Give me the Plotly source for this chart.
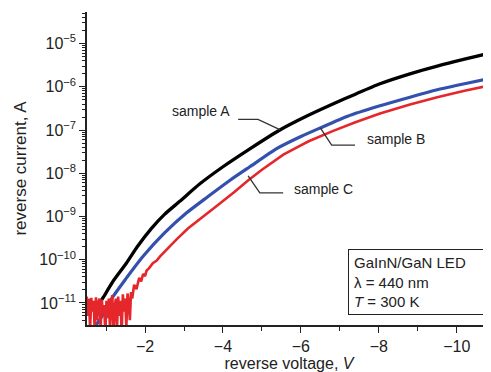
import numpy as np
import plotly.graph_objects as go

# ---------------- data ----------------
# reverse voltage in V, current given as log10(I / A)
sample_a_voltage = [-0.75, -0.92, -1.2, -1.52, -1.8, -2.16, -2.5, -2.89, -3.4, -4.0,
                    -4.7, -5.46, -6.1, -6.82, -7.4, -8.03, -8.8, -9.5, -10.2, -10.9]
sample_a_log10_current = [-11.12, -10.88, -10.47, -10.08, -9.70, -9.28, -8.95, -8.65, -8.25, -7.85,
                          -7.43, -7.00, -6.70, -6.40, -6.17, -5.93, -5.70, -5.52, -5.36, -5.21]

sample_b_voltage = [-0.68, -0.9, -1.18, -1.5, -1.95, -2.5, -3.06, -3.6, -4.2, -4.69,
                    -5.4, -6.0, -6.5, -7.2, -8.03, -8.8, -9.5, -10.2, -10.9]
sample_b_log10_current = [-11.6, -11.3, -10.85, -10.45, -9.92, -9.38, -8.92, -8.55, -8.15, -7.85,
                          -7.42, -7.15, -6.95, -6.68, -6.44, -6.24, -6.07, -5.93, -5.80]

sample_c_voltage = [-0.50, -0.53, -0.56, -0.59, -0.62, -0.65, -0.68, -0.71, -0.74, -0.77,
                    -0.80, -0.83, -0.86, -0.89, -0.92, -0.95, -0.98, -1.01, -1.04, -1.07,
                    -1.10, -1.13, -1.16, -1.19, -1.22, -1.25, -1.28, -1.31, -1.34, -1.37,
                    -1.40, -1.43, -1.46, -1.49, -1.52, -1.55, -1.58, -1.61, -1.64, -1.67,
                    -1.72, -1.78, -1.85, -1.9, -1.95, -2.0, -2.04, -2.1, -2.2, -2.3,
                    -2.38, -2.6, -2.81, -3.1, -3.4, -3.92, -4.3, -4.65, -5.0, -5.3,
                    -5.55, -5.9, -6.2, -6.83, -7.4, -8.03, -8.8, -9.5, -10.2, -10.9]
sample_c_log10_current = [-10.85, -11.3, -10.9, -11.6, -10.88, -11.2, -10.95, -11.7, -10.87, -11.4,
                          -11.0, -10.9, -11.6, -10.92, -11.25, -11.05, -11.7, -10.95, -11.35, -10.9,
                          -11.6, -11.0, -10.82, -11.7, -11.1, -10.9, -11.6, -10.85, -11.3, -10.95,
                          -11.7, -10.8, -11.2, -10.9, -11.55, -10.78, -11.0, -11.4, -10.75, -10.9,
                          -10.58, -10.68, -10.42, -10.5, -10.33, -10.38, -10.25, -10.2, -10.08, -10.02,
                          -9.93, -9.72, -9.53, -9.28, -9.06, -8.70, -8.43, -8.16, -7.92, -7.72,
                          -7.57, -7.40, -7.26, -7.02, -6.82, -6.62, -6.41, -6.24, -6.09, -5.96]

# leader lines for the labels
leader_a_voltage = [-4.39, -4.90, -5.46]
leader_a_log10 = [-6.755, -6.755, -6.99]
leader_b_voltage = [-6.50, -6.79, -7.39]
leader_b_log10 = [-6.95, -7.348, -7.348]
leader_c_voltage = [-4.646, -4.946, -5.545]
leader_c_log10 = [-8.06, -8.453, -8.453]

labels = ["sample A", "sample B", "sample C"]
label_voltage = [-3.43, -8.45, -6.585]
label_log10 = [-6.556, -7.212, -8.374]

x_tick_values = [-2, -4, -6, -8, -10]
x_tick_text = ["\u22122", "\u22124", "\u22126", "\u22128", "\u221210"]
x_minor_values = [-1, -3, -5, -7, -9, -11]
y_decades = [-11, -10, -9, -8, -7, -6, -5]
y_tick_text = ["10<sup>\u2212%d</sup>" % (-d) for d in y_decades]

# ---------------- figure ----------------
FONT = "Liberation Sans, Arial, sans-serif"
fig = go.Figure()

def amps(logs):
    return np.power(10.0, np.array(logs, dtype=float))

fig.add_trace(go.Scatter(x=sample_a_voltage, y=amps(sample_a_log10_current), mode="lines",
                         line=dict(color="#000000", width=3.3, shape="spline", smoothing=0.6),
                         showlegend=False, hoverinfo="skip"))
fig.add_trace(go.Scatter(x=sample_b_voltage, y=amps(sample_b_log10_current), mode="lines",
                         line=dict(color="#3350ae", width=3.2, shape="spline", smoothing=0.6),
                         showlegend=False, hoverinfo="skip"))
fig.add_trace(go.Scatter(x=sample_c_voltage, y=amps(sample_c_log10_current), mode="lines",
                         line=dict(color="#e5262b", width=2.6),
                         showlegend=False, hoverinfo="skip"))

for lv, ll in [(leader_a_voltage, leader_a_log10), (leader_b_voltage, leader_b_log10),
               (leader_c_voltage, leader_c_log10)]:
    fig.add_trace(go.Scatter(x=lv, y=amps(ll), mode="lines",
                             line=dict(color="#333333", width=1.3),
                             showlegend=False, hoverinfo="skip"))

for txt, lv, ll in zip(labels, label_voltage, label_log10):
    fig.add_annotation(x=lv, y=ll, xref="x", yref="y", text=txt, showarrow=False,
                       xanchor="center", yanchor="middle",
                       font=dict(family=FONT, size=14, color="#222222"))

fig.add_annotation(x=0.8144, y=0.1377, xref="paper", yref="paper",
                   text="GaInN/GaN LED<br>\u03bb = 440 nm<br><i>T</i> = 300 K",
                   showarrow=False, align="left", xanchor="center", yanchor="middle",
                   width=124, height=54, borderpad=5, borderwidth=1, bordercolor="#222222",
                   bgcolor="white", font=dict(family=FONT, size=15, color="#222222"))

fig.update_xaxes(range=[-0.51, -10.88], tickmode="array", tickvals=x_tick_values,
                 ticktext=x_tick_text, ticks="outside", ticklen=6, tickwidth=1.2,
                 tickcolor="#222222", showline=True, linecolor="#222222", linewidth=1.5,
                 showgrid=False, zeroline=False, automargin=False,
                 minor=dict(tickmode="array", tickvals=x_minor_values, ticks="outside",
                            ticklen=4, tickwidth=1.2, tickcolor="#222222", showgrid=False),
                 tickfont=dict(family=FONT, size=16, color="#222222"),
                 title=dict(text="reverse voltage, <i>V</i>", standoff=6,
                            font=dict(family=FONT, size=16, color="#222222")))

y_minor_values = [m * 10.0 ** d for d in range(-12, -4) for m in range(2, 10)]
fig.update_yaxes(type="log", range=[-11.51, -4.27], tickmode="array",
                 tickvals=[10.0 ** d for d in y_decades], ticktext=y_tick_text,
                 ticks="outside", ticklen=6, tickwidth=1.2, tickcolor="#222222",
                 showline=True, linecolor="#222222", linewidth=1.5,
                 showgrid=False, zeroline=False, automargin=False,
                 minor=dict(tickmode="array", tickvals=y_minor_values, ticks="outside",
                            ticklen=3, tickwidth=1, tickcolor="#222222", showgrid=False),
                 tickfont=dict(family=FONT, size=16, color="#222222"),
                 title=dict(text="reverse current, A", standoff=8,
                            font=dict(family=FONT, size=17, color="#222222")))

# the page adds an 8 px body margin, so the figure is 8 px smaller and margins shifted
fig.update_layout(width=483, height=364, margin=dict(l=79, r=0, t=4, b=47),
                  plot_bgcolor="white", paper_bgcolor="white", showlegend=False)

fig.write_html("out.html")
